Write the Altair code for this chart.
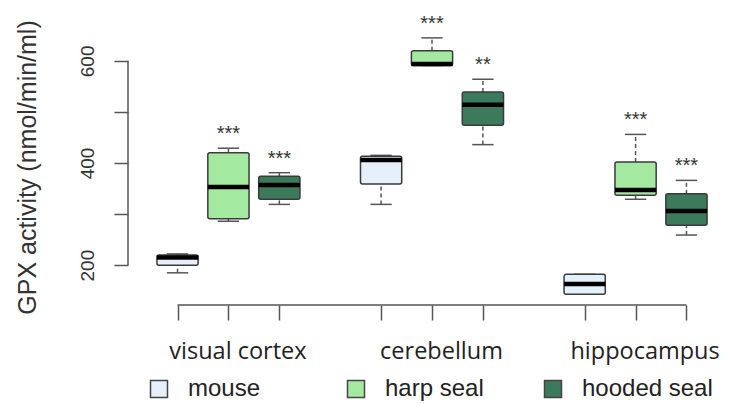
import altair as alt
import pandas as pd

# GPX activity per brain region and species (five-number summaries)
regions = ["visual cortex", "cerebellum", "hippocampus"]
species = ["mouse", "harp seal", "hooded seal"]
fills = ["#e6f0fa", "#a4e9a0", "#3c7a5c"]

# order: region-major, species-minor
lower = [185, 286, 319, 319, 591, 436, 143, 329, 259]
q1 = [200, 291, 329, 359, 591, 474, 143, 337, 278]
median = [215, 353, 357, 406, 594, 514, 163, 347, 306]
q3 = [220, 420, 374, 413, 620, 539, 182, 402, 340]
upper = [222, 429, 381, 415, 645, 564, 182, 456, 366]
stars = ["", "***", "***", "", "***", "**", "", "***", "***"]

y_ticks = [200, 300, 400, 500, 600]
y_labelled = [200, 400, 600]

rows = []
k = 0
for gi, reg in enumerate(regions):
    for si, sp in enumerate(species):
        pos = gi * 4 + si + 1
        rows.append(dict(region=reg, species=sp, pos=pos,
                         lower=lower[k], q1=q1[k], median=median[k],
                         q3=q3[k], upper=upper[k], stars=stars[k]))
        k += 1
df = pd.DataFrame(rows)
df["box_l"] = df["pos"] - 0.405
df["box_r"] = df["pos"] + 0.405
df["cap_l"] = df["pos"] - 0.21
df["cap_r"] = df["pos"] + 0.21

positions = list(df["pos"])
group_pos = [gi * 4 + 2 for gi in range(len(regions))]

label_expr = "".join(
    f"datum.value == {p} ? '{r}' : " for p, r in zip(group_pos, regions)
) + "''"
ylabel_expr = "indexof([" + ",".join(str(v) for v in y_labelled) + "], datum.value) >= 0 ? datum.label : ''"

x_scale = alt.Scale(domain=[0.4, 11.6], nice=False, zero=False)
y_scale = alt.Scale(domain=[122, 680], nice=False, zero=False)

AXIS_GREY = "#555555"

x_axis = alt.Axis(
    values=positions, labelExpr=label_expr, domain=False, grid=False,
    tickSize=15, tickColor=AXIS_GREY, tickWidth=1.5,
    labelFont="Open Sans", labelFontSize=23.5, labelColor="#222222",
    labelPadding=38, labelBaseline="alphabetic", labelOverlap=False,
    labelFlush=False, labelBound=False, labelOffset=9, title=""
)
y_axis = alt.Axis(
    values=y_ticks, labelExpr=ylabel_expr, domain=False, grid=False, offset=19,
    tickSize=14, tickColor=AXIS_GREY, tickWidth=1.5,
    labelFont="Liberation Sans", labelFontSize=19, labelColor="#333333",
    labelAngle=270, labelAlign="center", labelBaseline="alphabetic",
    labelPadding=21, labelOverlap=False,
    title="GPX activity (nmol/min/ml)", titleFont="Liberation Sans",
    titleFontSize=25, titleFontWeight="normal", titleColor="#333333",
    titleAngle=270, titleAlign="center", titleBaseline="middle",
    titleX=-101, titleY=147
)

base = alt.Chart(df)

whisker_hi = base.mark_rule(color=AXIS_GREY, strokeWidth=1.5, strokeDash=[4, 3]).encode(
    x=alt.X("pos:Q", scale=x_scale, axis=x_axis),
    y=alt.Y("q3:Q", scale=y_scale, axis=y_axis),
    y2="upper:Q",
)
whisker_lo = base.mark_rule(color=AXIS_GREY, strokeWidth=1.5, strokeDash=[4, 3]).encode(
    x="pos:Q", y="lower:Q", y2="q1:Q"
)
cap_hi = base.mark_rule(color=AXIS_GREY, strokeWidth=1.5).encode(
    x="cap_l:Q", x2="cap_r:Q", y="upper:Q"
)
cap_lo = base.mark_rule(color=AXIS_GREY, strokeWidth=1.5).encode(
    x="cap_l:Q", x2="cap_r:Q", y="lower:Q"
)
boxes = base.mark_bar(stroke="#3a3a3a", strokeWidth=1.5, cornerRadius=2, opacity=1).encode(
    x="box_l:Q", x2="box_r:Q", y="q1:Q", y2="q3:Q",
    fill=alt.Fill(
        "species:N", title=None,
        scale=alt.Scale(domain=species, range=fills),
        legend=alt.Legend(
            orient="none", legendX=0, legendY=357, direction="horizontal",
            columns=3, gridAlign="all", columnPadding=25, padding=0,
            symbolType="square", symbolSize=289, symbolStrokeColor="#444444",
            symbolStrokeWidth=1.5, symbolOpacity=1,
            labelFont="Liberation Sans", labelFontSize=24, labelColor="#222222",
            labelOffset=17, labelLimit=300,
        ),
    ),
)
medians = base.mark_rule(color="#000000", strokeWidth=4.5).encode(
    x="box_l:Q", x2="box_r:Q", y="median:Q"
)
signif = base.mark_text(
    font="Liberation Sans", fontSize=20, color="#333333",
    baseline="alphabetic", align="center", dy=-8
).encode(x="pos:Q", y="upper:Q", text="stars:N")

# R-style axis lines that stop at the outermost ticks
y_line = alt.Chart(pd.DataFrame({"a": [y_ticks[0]], "b": [y_ticks[-1]]})).mark_rule(
    color=AXIS_GREY, strokeWidth=1.5
).encode(x=alt.value(-19), y="a:Q", y2="b:Q")
x_line = alt.Chart(pd.DataFrame({"a": [positions[0]], "b": [positions[-1]]})).mark_rule(
    color=AXIS_GREY, strokeWidth=1.5
).encode(x="a:Q", x2="b:Q", y=alt.value(285))

chart = alt.layer(
    y_line, x_line, whisker_hi, whisker_lo, cap_hi, cap_lo, boxes, medians, signif
).properties(
    width=570, height=285,
    autosize=alt.AutoSizeParams(type="none"),
    padding={"left": 147, "top": 20, "right": 12, "bottom": 98},
    background="white",
).configure_view(stroke=None)

chart.save("out.html", embed_options={"renderer": "svg", "actions": False})
